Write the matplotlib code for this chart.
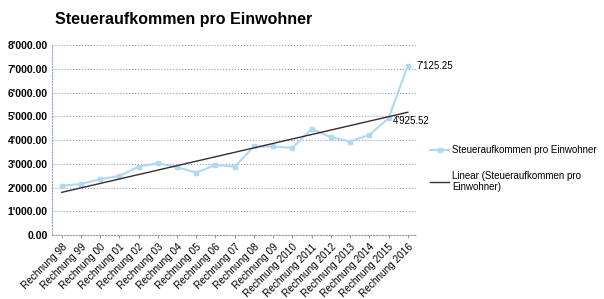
'''
Steueraufkommen pro Einwohner
'''
import matplotlib
matplotlib.use('Agg')
import matplotlib.pyplot as plt
from matplotlib.ticker import FuncFormatter
import numpy as np

plt.rcParams['font.family'] = ['Liberation Sans', 'DejaVu Sans']

years = ['98', '99', '00', '01', '02', '03', '04', '05', '06', '07', '08', '09',
         '2010', '2011', '2012', '2013', '2014', '2015', '2016']
labels = ['Rechnung ' + y for y in years]
steuer = [2070, 2150, 2350, 2490, 2880, 3025, 2855, 2630, 2950, 2880,
          3730, 3730, 3670, 4470, 4120, 3940, 4220, 4925.52, 7125.25]

def swiss(v, pos=None):
    return f"{v:,.2f}".replace(',', "'")

x = np.arange(len(steuer))
# linear trend like excel
k, d = np.polyfit(x, steuer, 1)
trend = k * x + d

fig = plt.figure(figsize=(6.04, 2.99), dpi=100)
ax = fig.add_axes([0.0861, 0.214, 0.6050, 0.635])

ax.plot(x, steuer, color='#b0d8f2', lw=1.5, marker='s', ms=3,
        label='Steueraufkommen pro Einwohner')
ax.plot(x, trend, color='#3b2b2b', lw=1.0,
        label='Linear (Steueraufkommen pro\nEinwohner)')

ax.set_xlim(-0.5, len(steuer) - 0.5)
ax.set_ylim(0, 8000)
ax.set_yticks(np.arange(0, 8001, 1000))
ax.yaxis.set_major_formatter(FuncFormatter(swiss))
ax.set_xticks(x)
ax.set_xticklabels(labels, rotation=45, ha='right', rotation_mode='anchor', fontsize=7.2)
ax.tick_params(axis='y', labelsize=7.5, length=0, pad=3)
ax.tick_params(axis='x', length=2, color='#999999', pad=3)
for t in ax.get_yticklabels():
    t.set_fontweight('bold')

ax.grid(axis='y', color='#8f9cc8', linestyle=':', lw=0.8)
ax.set_axisbelow(True)
for s in ['top', 'right']:
    ax.spines[s].set_visible(False)
ax.spines['left'].set_color('#8f9cc8')
ax.spines['left'].set_linestyle(':')
ax.spines['bottom'].set_color('#999999')
ax.spines['bottom'].set_linestyle(':')

ax.annotate(swiss(steuer[-1]), (x[-1], steuer[-1]), xytext=(6, 0),
            textcoords='offset points', va='center', fontsize=7)
ax.annotate(swiss(steuer[-2]), (x[-2], steuer[-2]), xytext=(3, -2),
            textcoords='offset points', va='center', fontsize=7)

fig.text(0.091, 0.935, 'Steueraufkommen pro Einwohner', fontsize=11.5,
         fontweight='bold', ha='left', va='center')

ax.legend(loc='upper left', bbox_to_anchor=(1.01, 0.52), frameon=False,
          fontsize=7, handlelength=2.0, labelspacing=1.6, handletextpad=0.3)

plt.savefig('out.png', dpi=100)
